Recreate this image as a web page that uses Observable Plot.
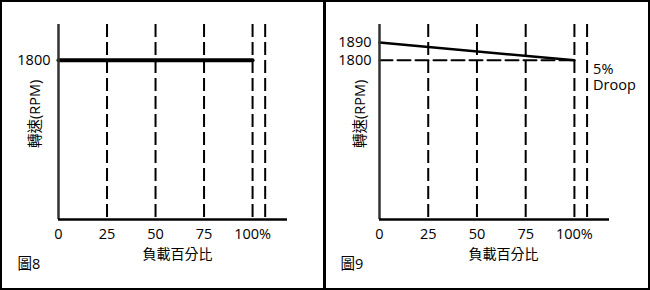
<!DOCTYPE html>
<html>
<head>
<meta charset="utf-8">
<script src="https://cdn.jsdelivr.net/npm/d3@7"></script>
<script src="https://cdn.jsdelivr.net/npm/@observablehq/plot@0.6"></script>
<style>
  html, body { margin: 0; padding: 0; background: #fff; }
  #wrap { position: relative; width: 650px; height: 290px; }
  .panel { position: absolute; top: 0; height: 290px; box-sizing: border-box; border: 2px solid #000; background: #fff; }
  #p8 { left: 0; width: 326px; border-right-width: 3px; }
  #p9 { left: 326px; width: 324px; border-left-width: 0; }
  .panel svg { display: block; }
</style>
</head>
<body>
<div id="wrap">
  <div class="panel" id="p8"></div>
  <div class="panel" id="p9"></div>
</div>
<script>
// ---- data ----
const loadTicks = [0, 25, 50, 75, 100];
const guideLoads = [25, 50, 75, 100, 106.5];
const isoLoad = [0, 100];
const isoSpeed = [1800, 1800];
const droopLoad = [0, 100];
const droopSpeed = [1890, 1800];
const refLoad = [0, 100];
const refSpeed = [1800, 1800];
const speedTicks8 = [1800];
const speedTicks9 = [1890, 1800];
const xLabel = "負載百分比";
const yLabel = "轉速(RPM)";
const captions = ["圖8", "圖9"];
const droopText = ["5%", "Droop"];
const loadDomain = [0, 118];
const speedDomain = [1000, 1980];

const font = '"Open Sans", "Noto Sans CJK TC", sans-serif';
const dash = "13,5";
const fs = 14.5;

function panel({width, marginLeft, marginRight, speedTicks, lines, extra, xTitleDx, yTitleDx, capDx, caption}) {
  const height = 286, marginTop = 22, marginBottom = 69;
  return Plot.plot({
    width, height, marginLeft, marginRight, marginTop, marginBottom,
    style: {fontFamily: font, fontSize: "14.5px", background: "#fff", color: "#000", overflow: "visible"},
    x: {domain: loadDomain, axis: null},
    y: {domain: speedDomain, axis: null},
    marks: [
      Plot.ruleX(guideLoads, {stroke: "#000", strokeWidth: 2, strokeDasharray: dash}),
      ...lines,
      Plot.ruleX([0], {stroke: "#333", strokeWidth: 2.5}),
      Plot.ruleY([speedDomain[0]], {stroke: "#000", strokeWidth: 2.5}),
      Plot.axisX(loadTicks, {tickSize: 0, tickPadding: 9, fontSize: fs, tickFormat: d => d === 100 ? "100%" : String(d), label: null}),
      Plot.axisY(speedTicks, {tickSize: 0, tickPadding: 8, fontSize: fs, tickFormat: d => String(d), label: null}),
      Plot.text([xLabel], {frameAnchor: "bottom", dx: xTitleDx, dy: 39, fontSize: 14}),
      Plot.text([yLabel], {frameAnchor: "left", rotate: -90, dx: yTitleDx, dy: 26, fontSize: fs}),
      Plot.text([caption], {frameAnchor: "bottom-left", textAnchor: "start", dx: capDx, dy: 49, fontSize: fs}),
      ...extra
    ]
  });
}

const p8 = panel({
  width: 321, marginLeft: 56, marginRight: 36, speedTicks: speedTicks8,
  lines: [Plot.line(isoLoad.map((x, i) => ({x, y: isoSpeed[i]})), {x: "x", y: "y", stroke: "#000", strokeWidth: 4})],
  extra: [], xTitleDx: 4.5, yTitleDx: -23, capDx: -41, caption: captions[0]
});
const p9 = panel({
  width: 322, marginLeft: 53, marginRight: 39, speedTicks: speedTicks9,
  lines: [
    Plot.line(refLoad.map((x, i) => ({x, y: refSpeed[i]})), {x: "x", y: "y", stroke: "#000", strokeWidth: 2, strokeDasharray: dash}),
    Plot.line(droopLoad.map((x, i) => ({x, y: droopSpeed[i]})), {x: "x", y: "y", stroke: "#000", strokeWidth: 2.5})
  ],
  extra: [Plot.text([droopText.join("\n")], {x: [guideLoads[4]], y: [refSpeed[1]], dx: 6, dy: 2, textAnchor: "start", lineAnchor: "top", lineHeight: 1.12, fontSize: fs})],
  xTitleDx: 9, yTitleDx: -19, capDx: -39, caption: captions[1]
});
document.getElementById("p8").appendChild(p8);
document.getElementById("p9").appendChild(p9);
</script>
</body>
</html>
